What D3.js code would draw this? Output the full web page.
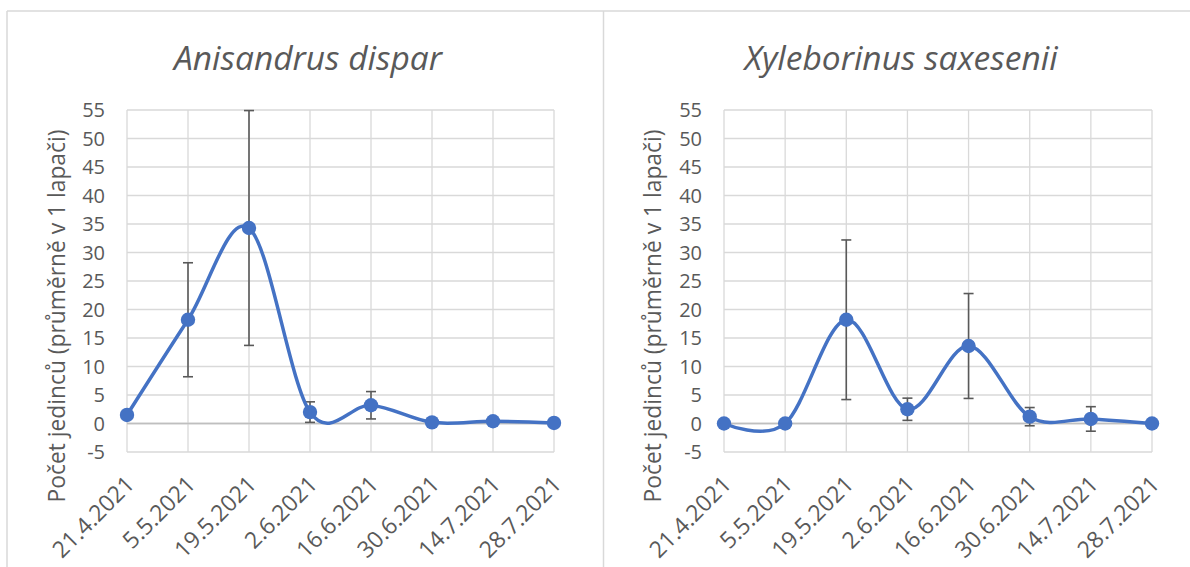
<!DOCTYPE html>
<html><head><meta charset="utf-8">
<script src="https://cdn.jsdelivr.net/npm/d3@7"></script>
<style>body{margin:0;background:#fff}svg{display:block}</style>
</head><body>
<svg id="c" width="1190" height="567"></svg>
<script>
const dates = ["21.4.2021","5.5.2021","19.5.2021","2.6.2021","16.6.2021","30.6.2021","14.7.2021","28.7.2021"];
const yTicks = [-5,0,5,10,15,20,25,30,35,40,45,50,55];
const yTitle = "Počet jedinců (průměrně v 1 lapači)";
const titles = ["Anisandrus dispar","Xyleborinus saxesenii"];
const anisMean = [1.5,18.2,34.3,2.0,3.2,0.2,0.4,0.1];
const anisErr  = [0,10,20.6,1.8,2.4,0,0,0];
const xyleMean = [0,0,18.2,2.5,13.6,1.2,0.8,0];
const xyleErr  = [0,0,14,1.95,9.2,1.6,2.15,0];

const svg = d3.select("#c");
const FONT = "'Open Sans', sans-serif";
const TXT = "#595959";
const GRID = "#d9d9d9";
const BLUE = "#4472C4";

svg.append("line").attr("x1",7).attr("x2",1190).attr("y1",11).attr("y2",11).attr("stroke",GRID).attr("stroke-width",1.5);
svg.append("line").attr("x1",7).attr("x2",7).attr("y1",11).attr("y2",567).attr("stroke",GRID).attr("stroke-width",1.5);
svg.append("line").attr("x1",603.5).attr("x2",603.5).attr("y1",11).attr("y2",567).attr("stroke",GRID).attr("stroke-width",1.5);

const panels = [
  {title:titles[0], mean:anisMean, err:anisErr, x0:127, x1:554, titleX:308, yTitleX:57, tickX:105},
  {title:titles[1], mean:xyleMean, err:xyleErr, x0:724, x1:1152, titleX:901, yTitleX:653, tickX:702}
];

panels.forEach(p => {
  const g = svg.append("g");
  const x = d3.scalePoint().domain(dates).range([p.x0,p.x1]);
  const y = d3.scaleLinear().domain([-5,55]).range([452,110]);

  g.selectAll(".hg").data(yTicks).join("line")
    .attr("x1",p.x0).attr("x2",p.x1)
    .attr("y1",d=>y(d)).attr("y2",d=>y(d))
    .attr("stroke",d=>d===0?"#bfbfbf":GRID).attr("stroke-width",1.3);
  g.selectAll(".vg").data(dates).join("line")
    .attr("x1",d=>x(d)).attr("x2",d=>x(d))
    .attr("y1",y(55)).attr("y2",y(-5))
    .attr("stroke",GRID).attr("stroke-width",1.3);
  g.append("line").attr("x1",p.x0).attr("x2",p.x1).attr("y1",y(0)).attr("y2",y(0))
    .attr("stroke","#bfbfbf").attr("stroke-width",1.3);

  g.selectAll(".yt").data(yTicks).join("text")
    .attr("x",p.tickX).attr("y",d=>y(d)).attr("dy","0.35em")
    .attr("text-anchor","end").attr("font-family",FONT).attr("font-size",20)
    .attr("fill",TXT).text(d=>d);

  g.selectAll(".xt").data(dates).join("text")
    .attr("transform",d=>`translate(${x(d)+3},${y(-5)+28}) rotate(-45)`)
    .attr("text-anchor","end").attr("dy","0.35em")
    .attr("font-family",FONT).attr("font-size",23).attr("fill",TXT).text(d=>d);

  g.append("text").attr("transform",`translate(${p.yTitleX},316) rotate(-90)`)
    .attr("text-anchor","middle").attr("dy","0.35em")
    .attr("font-family",FONT).attr("font-size",22.8).attr("fill",TXT).text(yTitle);

  g.append("text").attr("x",p.titleX).attr("y",70).attr("text-anchor","middle")
    .attr("font-family",FONT).attr("font-style","italic").attr("font-size",33.5)
    .attr("fill",TXT).text(p.title);

  const pts = dates.map((d,i)=>({d, m:p.mean[i], e:p.err[i]}));

  const eb = g.selectAll(".eb").data(pts.filter(o=>o.e>0)).join("g");
  eb.append("line").attr("x1",o=>x(o.d)).attr("x2",o=>x(o.d))
    .attr("y1",o=>y(o.m+o.e)).attr("y2",o=>y(o.m-o.e)).attr("stroke","#595959").attr("stroke-width",1.6);
  [1,-1].forEach(s=>{
    eb.append("line").attr("x1",o=>x(o.d)-5).attr("x2",o=>x(o.d)+5)
      .attr("y1",o=>y(o.m+s*o.e)).attr("y2",o=>y(o.m+s*o.e)).attr("stroke","#595959").attr("stroke-width",1.6);
  });

  const line = d3.line().x(o=>x(o.d)).y(o=>y(o.m)).curve(d3.curveCardinal.tension(0));
  g.append("path").datum(pts).attr("d",line).attr("fill","none")
    .attr("stroke",BLUE).attr("stroke-width",3.5).attr("stroke-linecap","round");

  g.selectAll(".mk").data(pts).join("circle")
    .attr("cx",o=>x(o.d)).attr("cy",o=>y(o.m)).attr("r",7.2).attr("fill",BLUE);
});
</script>
</body></html>
